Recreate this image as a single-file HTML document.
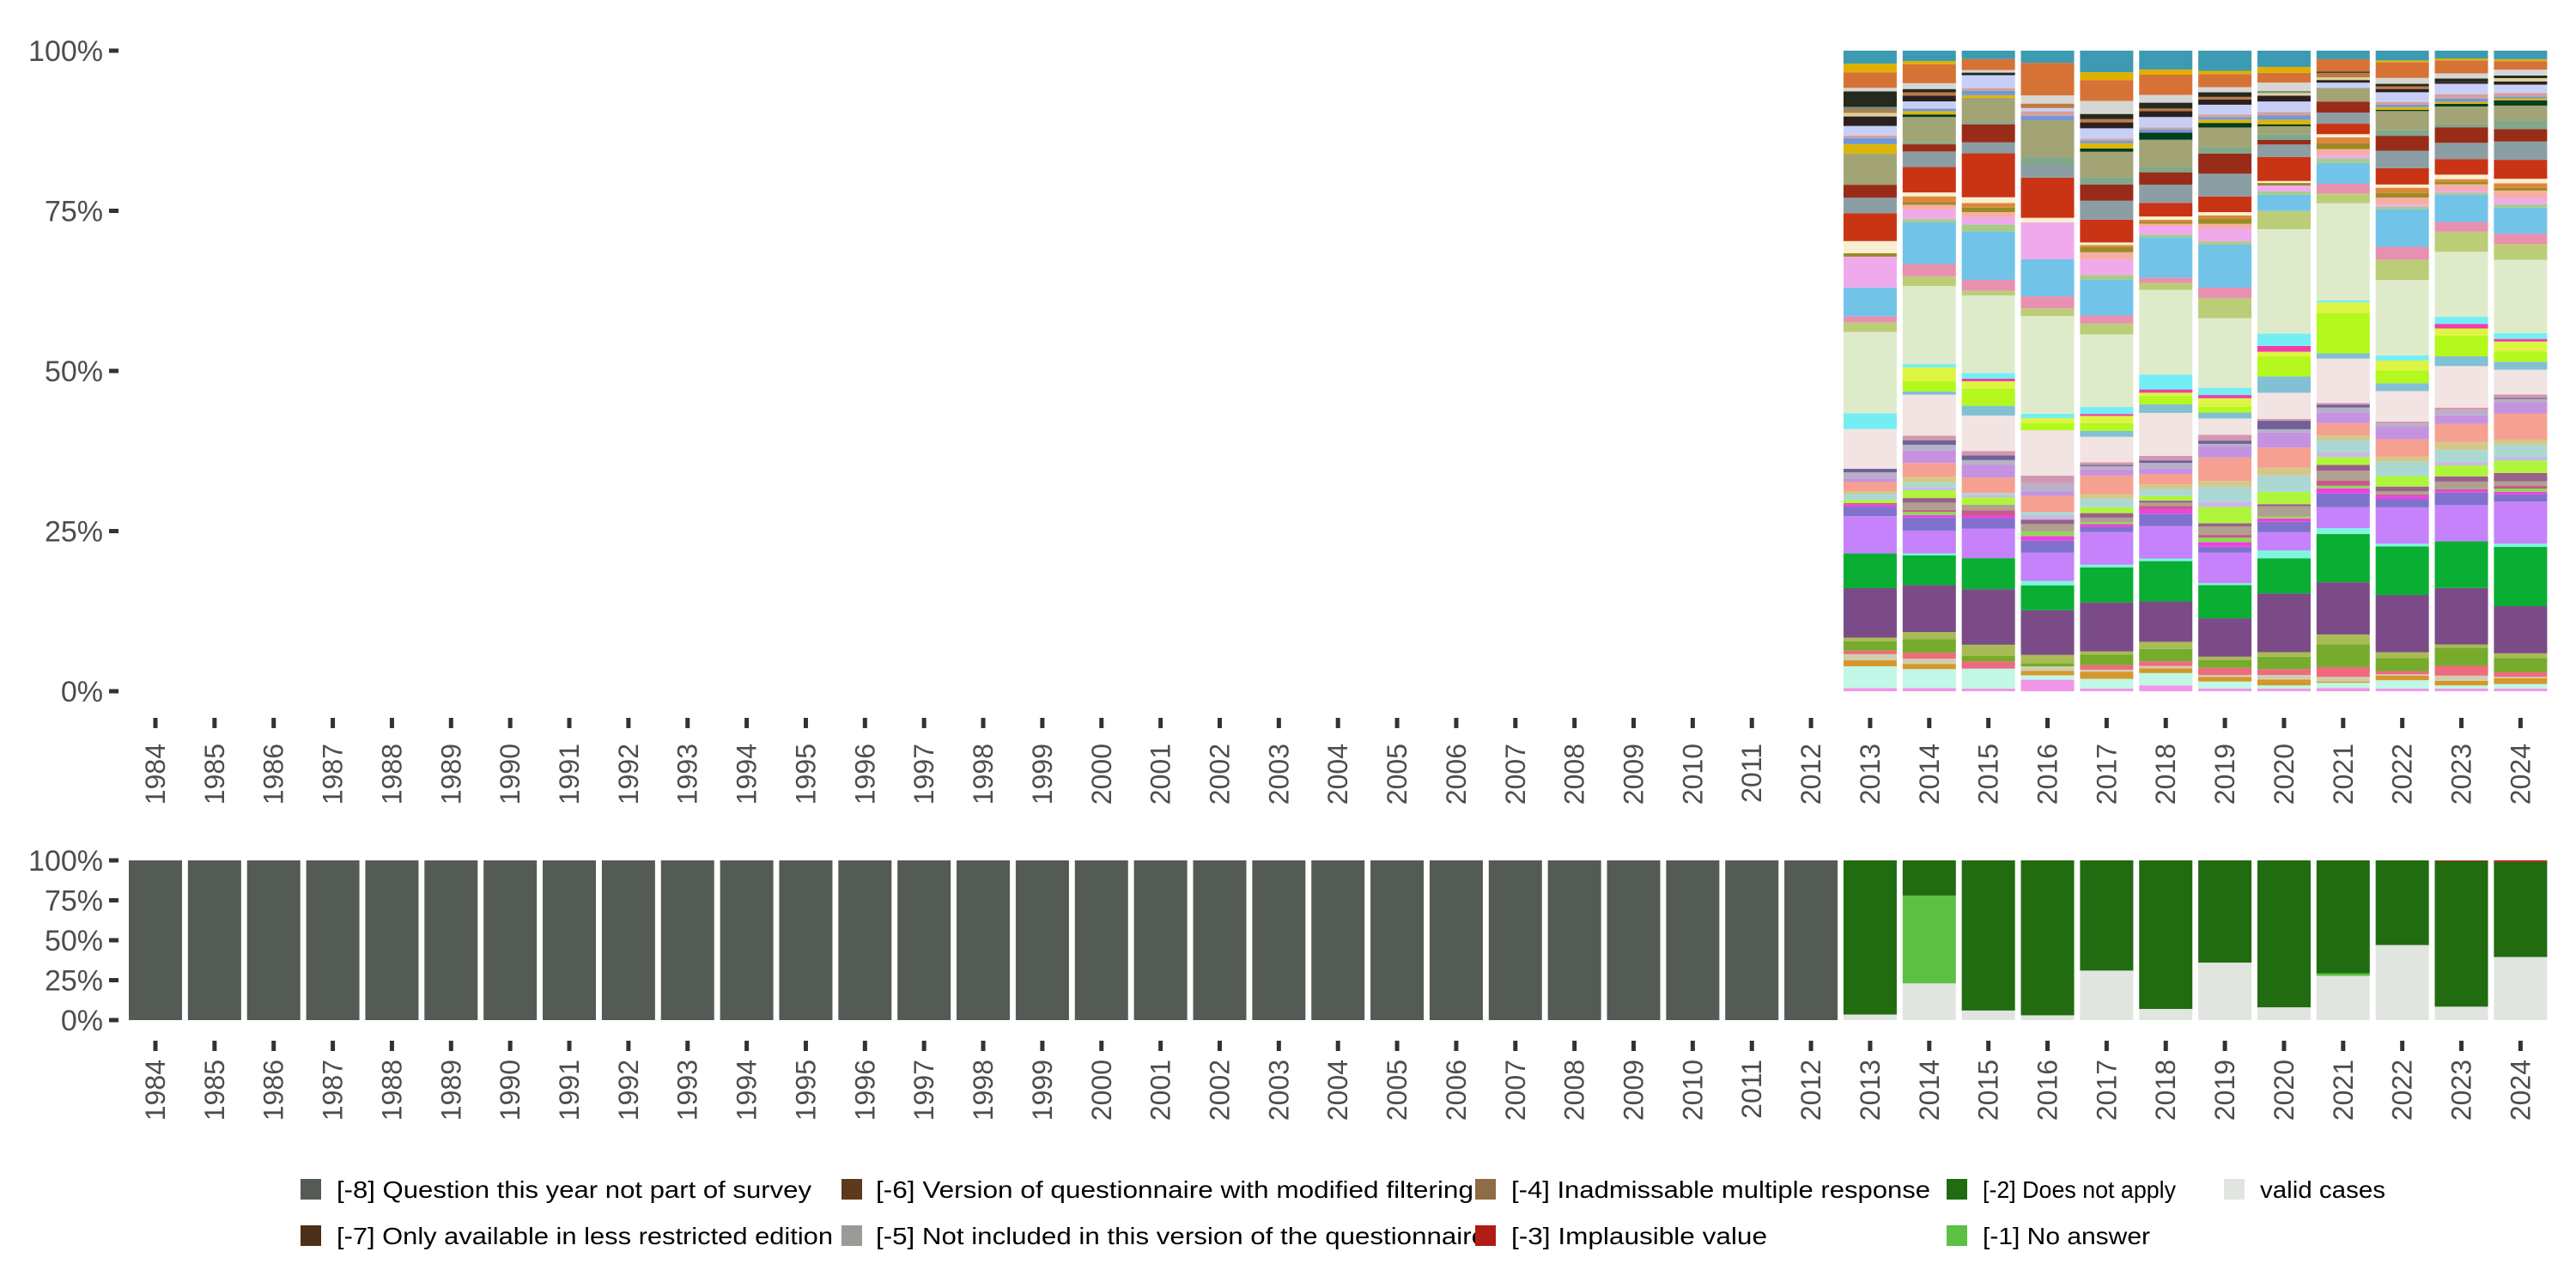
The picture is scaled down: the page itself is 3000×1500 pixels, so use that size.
<!DOCTYPE html>
<html><head><meta charset="utf-8"><style>
html,body{margin:0;padding:0;background:#fff;}
svg{display:block;font-family:"Liberation Sans",sans-serif;}
</style></head><body>
<svg id="chart" width="3000" height="1500" viewBox="0 0 3000 1500" xmlns="http://www.w3.org/2000/svg">
<g id="top"></g>
<g id="bottom"></g>
<g id="legend"></g>
</svg>
<script>
const years = [];
for (let y = 1984; y <= 2024; y++) years.push(y);
const yTicks = [0, 25, 50, 75, 100];
const yTickLabels = ["0%", "25%", "50%", "75%", "100%"];

// Top panel: answer categories (bottom -> top)
const catColors = ["#f096e8","#c0f7e6","#d6972a","#cfcfae","#ee6a7e","#76ab2c","#a9bb55","#7b4b87","#0aae33","#7ff5e0",
"#c582fa","#8072cc","#f040e0","#8ed855","#c55a8a","#b0a090","#98608a","#aef53c","#cab8e6","#acd8d4",
"#d5c887","#f5a090","#c592e0","#b8b0c8","#6e6296","#d496b0","#f2e4e2","#82c0d4","#b4f81e","#ddf542",
"#ee3fa8","#74eef5","#deebcb","#bccd78","#e890b0","#72c3e8","#a8cc88","#f0aaec","#f7aea2","#9c8a25",
"#dc873a","#faeed0","#c83414","#8a9ea4","#982c18","#80a88a","#a2a476","#023d1b","#ddb60a","#7397d6",
"#d6a09a","#c8cff7","#2a2020","#dcd2a0","#c07a40","#7b8c7a","#262a1e","#d6d6d4","#d67236","#e0b000","#3d9ab3"];
const topYears = [2013,2014,2015,2016,2017,2018,2019,2020,2021,2022,2023,2024];
const v2013 = [0.5,3.35,0.94,0.94,0.54,1.47,0.54,7.64,5.36,0, 5.76,1.47,0.3,0,0.25,0,0,0.5,0,0.94, 0.4,1.47,0.5,0.94,0.54,0,6.16,0,0,0, 0,2.4,12.6,1.47,0.94,4.4,0,4.8,0,0.54, 0,1.87,4.3,2.4,2,0,4.8,0,1.47,0.94, 0.4,1.47,1.47,0.54,0.4,0.54,2.4,0.54,2.4,1.34, 2];
const v2014 = [0.5,2.9,0.8,0.8,0.9,2.1,1.1,7.2,4.6,0.3, 3.5,2.0,0.4,0.5,0.3,1.1,0.7,1.2,0.4,0.8, 0.9,2.1,1.9,0.9,0.7,0.7,6.3,0.5,1.6,2.1, 0,0.5,12,1.5,1.9,6.4,0.5,1.5,0.7,0.4, 0.9,0.6,3.9,2.4,1.1,0.3,3.9,0.4,0.5,0.4, 0,1.1,0.9,0,0.5,0,0.5,0.9,2.9,0.5, 1.6];
const v2015 = [0.4,3.1,0,0,1.1,0.9,1.7,8.6,4.8,0, 4.6,1.6,0.4,0,0.8,0.9,0,1.1,0.4,0.3, 0,2.4,2.0,0.7,0.7,0.7,5.5,1.5,2.7,1.1, 0.4,0.9,12,0.7,1.7,7.5,1.1,1.1,0.8,0.7, 0.7,0.9,6.8,1.7,2.8,0.3,3.8,0,0.4,0.7, 0.4,2.0,0,0,0,0,0.4,0.4,1.7,0, 1.3];
const v2016 = [1.8,0.7,0.7,0.7,0,0.5,1.3,7.0,3.9,0.7, 4.4,1.9,0.7,0.7,0,1.2,0.7,0,0.7,0.5, 0,2.5,0.7,1.3,0,1.2,7.1,0,1.2,0.7, 0,0.7,15.3,1.2,1.9,5.8,0,5.8,0,0, 0,0.7,6.3,2.0,0,1.2,5.8,0,0,0.7, 0.7,0.5,0,0,0.7,0,0,1.3,5.1,0, 1.9];
const v2017 = [0.4,1.5,1.1,0.3,0.7,1.6,0.5,7.5,5.4,0.4, 5.0,0.8,0.4,0.3,0,0.7,0.7,0.9,0,1.3, 0.7,2.9,0.9,0.5,0.2,0.4,3.9,0.9,1.2,1.1, 0.3,1.1,11.1,1.7,1.2,5.5,0.7,2.4,1.1,0.8, 0.3,0.4,3.5,2.9,2.5,1.1,3.9,0.5,0.8,0.4, 0.3,1.6,0.9,0,0.5,0,0.8,2.0,3.2,1.2, 3.3];
const v2018 = [0.9,1.9,0.7,0.4,0.7,1.9,1.1,6.2,6.2,0.4, 5.0,1.9,0.7,0,0.5,0.5,0.3,0.7,0,1.1, 0.7,1.6,0.9,0.8,0.4,0.7,6.6,1.3,1.3,0.5, 0.5,2.3,13,1.1,0.8,6.2,0.4,1.3,0.4,0.3, 0.3,0.5,2.1,2.8,1.9,0.8,4.2,1.1,0,0.5, 0.3,1.6,0.9,0,0.4,0,0.9,1.2,3.1,0.8, 2.9];
const v2019 = [0.4,1.1,0.7,0.3,1.1,1.2,0.5,5.9,5.1,0.3, 4.7,0.9,0.7,0.7,0.4,1.3,0.5,2.5,0.8,2.3, 0.9,3.6,1.7,0.4,0.5,0.9,2.5,0.9,0.9,1.3, 0.5,1.1,10.7,3.1,1.6,6.6,0.5,2.0,0.7,0.8, 0.5,0.5,2.4,3.5,3.1,0.9,3.1,0.7,0.5,0.4, 0.4,1.5,0.8,0,0.4,0,0.7,0.8,2.0,0.5, 3.1];
const v2020 = [0.4,0.5,0.9,0.7,0.9,1.9,0.7,9.0,5.4,1.2, 2.8,1.6,0.5,0.3,0,1.6,0.3,1.9,0,2.5, 1.2,3.1,2.3,0.5,1.3,0.3,4.0,2.5,3.1,0.7, 0.9,1.9,16,2.8,0,2.5,0.5,0.9,0,0.4, 0,0.3,3.7,1.9,0.7,0.9,1.2,0.3,0.7,0.7, 0.5,1.6,0.9,0.4,0,0.3,0,1.3,1.5,0.9, 2.5];
const v2021 = [0.5,0.8,0.2,0.7,1.5,3.5,1.5,8.0,7.4,0.9, 3.2,2.1,0.8,0.4,0.8,1.5,0.9,1.2,0.7,1.9, 0.7,1.9,1.6,0.8,0.4,0.3,6.8,0.8,6.2,1.6, 0,0.3,14.9,1.5,1.5,3.2,0.7,0.5,0.9,0.9, 0.9,0.5,1.6,1.7,1.7,0,2.1,0,0,0, 0,0.8,0.4,0.4,0.7,0,0.2,0,1.9,0, 1.3];
const v2022 = [0.4,1.3,0.7,0.2,0.5,2.0,0.9,8.8,7.5,0.4, 5.6,1.3,0.5,0,0.2,0.5,0.7,1.6,0,2.2, 0.8,2.7,1.9,0.5,0,0.3,4.7,1.2,2.0,1.5, 0,0.8,11.6,3.1,2.0,5.8,0.4,0.3,1.1,0.7, 0.8,0.5,2.5,2.7,2.3,0.9,2.9,0.2,0.4,0.4, 0.4,1.5,0.5,0,0.4,0,0.4,0.9,2.4,0.3, 1.5];
const v2023 = [0.4,0.5,0.7,0.8,1.5,2.8,0.5,8.7,7.2,0, 5.6,1.9,0.3,0,0.2,1.2,0.8,1.7,0.5,1.9, 1.2,2.8,1.3,0.8,0,0.4,6.4,1.5,3.2,1.1, 0.7,1.1,10,3.1,1.5,4.2,0.3,0.4,0.9,0.4, 0.4,0.7,2.4,2.5,2.4,0.5,2.7,0.4,0.3,0.5, 0.7,1.6,0.3,0,0,0,0.5,0.8,2.0,0.3, 1.2];
const v2024 = [0.4,0.7,0.9,0.2,0.7,2.2,0.7,7.2,9.1,0.5, 6.4,1.1,0.4,0.5,0.4,0.7,1.3,1.9,0.5,1.9, 0.8,4.0,1.7,0.5,0.2,0.5,3.8,1.2,1.6,1.5, 0.4,0.9,11.2,2.4,1.6,4.0,0.5,0.9,1.2,0.4, 0.7,0.7,2.9,2.8,1.9,1.3,2.3,0.8,0.3,0.3, 0.5,1.3,0.5,0.5,0,0,0.4,0.9,1.3,0.3, 1.3];
const topValues = [v2013,v2014,v2015,v2016,v2017,v2018,v2019,v2020,v2021,v2022,v2023,v2024];

// Bottom panel: missing codes (percent), 2013-2024
const validCases   = [3.5,23,6,3,31,7,36,8,27.7,47,8.4,39.5];
const noAnswer     = [0,55,0,0,0,0,0,0,1.6,0,0,0];
const implausible  = [0,0,0,0,0,0,0,0,0,0,0.5,1];
const notSurveyed  = 100; // 1984-2012

const legendLabels = ["[-8] Question this year not part of survey","[-7] Only available in less restricted edition","[-6] Version of questionnaire with modified filtering","[-5] Not included in this version of the questionnaire","[-4] Inadmissable multiple response","[-3] Implausible value","[-2] Does not apply","[-1] No answer","valid cases"];
const legendColors = ["#545b55","#4d2f17","#5c3a1a","#999c96","#8f6b46","#b01c14","#216b10","#5bc043","#e1e5e0"];

const NS = "http://www.w3.org/2000/svg";
function mk(tag, attrs, parent) {
  const e = document.createElementNS(NS, tag);
  for (const k in attrs) e.setAttribute(k, attrs[k]);
  parent.appendChild(e);
  return e;
}
const x0 = 181, step = 68.86, barW = 62;
function xScale(year) { return x0 + (year - 1984) * step; }
function makeY(y0, y100) { return v => y0 + (y100 - y0) * v / 100; }
const yTop = makeY(805, 59);
const yBot = makeY(1188, 1002);

function axes(g, yS, tickY, labelY, prefix) {
  yTicks.forEach((t, i) => {
    const tl = mk("text", {x: 120, y: yS(t) + 12, "text-anchor": "end", "font-size": 34, fill: "#4d4d4d"}, g);
    tl.textContent = yTickLabels[i];
    
    
    const tm = mk("line", {x1: 127, x2: 138, y1: yS(t), y2: yS(t), stroke: "#333", "stroke-width": 5}, g);
    
    
  });
  years.forEach(yr => {
    const cx = xScale(yr);
    const tm = mk("line", {x1: cx, x2: cx, y1: tickY, y2: tickY + 12, stroke: "#333", "stroke-width": 5}, g);
    
    
    const tl = mk("text", {x: 0, y: 0, transform: `translate(${cx + 11},${labelY}) rotate(-90)`, "text-anchor": "end", "font-size": 32, fill: "#4d4d4d"}, g);
    tl.textContent = yr;
    
    
  });
}

// Top panel
const gt = document.getElementById("top");
topYears.forEach((yr, j) => {
  const vals = topValues[j];
  const total = vals.reduce((a, b) => a + b, 0);
  let cum = 0;
  vals.forEach((v, k) => {
    if (v <= 0) return;
    const p0 = cum / total * 100, p1 = (cum + v) / total * 100;
    cum += v;
    const r = mk("rect", {x: xScale(yr) - barW / 2, y: yTop(p1), width: barW, height: yTop(p0) - yTop(p1), fill: catColors[k]}, gt);
    
    
  });
});
axes(gt, yTop, 836, 866, 'top');

// Bottom panel
const gb = document.getElementById("bottom");
years.forEach(yr => {
  const j = yr - 2013;
  let segs;
  if (j < 0) segs = [[notSurveyed, legendColors[0]]];
  else {
    const dna = 100 - validCases[j] - noAnswer[j] - implausible[j];
    segs = [[validCases[j], legendColors[8]], [noAnswer[j], legendColors[7]], [dna, legendColors[6]], [implausible[j], legendColors[5]]];
  }
  let cum = 0;
  segs.forEach(s => {
    if (s[0] <= 0) return;
    const r = mk("rect", {x: xScale(yr) - barW / 2, y: yBot(cum + s[0]), width: barW, height: yBot(cum) - yBot(cum + s[0]), fill: s[1]}, gb);
    
    
    cum += s[0];
  });
});
axes(gb, yBot, 1212, 1234, 'bottom');

// Legend
const gl = document.getElementById("legend");
const legPos = [[350,1385,392,553],[350,1439,392,578],[980,1385,1020,696],[980,1439,1020,711],[1718,1385,1760,488],[1718,1439,1760,298],[2267,1385,2309,225],[2267,1439,2309,195],[2590,1385,2632,146]];
legendLabels.forEach((lab, i) => {
  const p = legPos[i];
  const k = mk("rect", {x: p[0], y: p[1] - 12, width: 24, height: 24, fill: legendColors[i]}, gl);
  
  
  const t = mk("text", {x: p[2], y: p[1] + 10, "font-size": 28, fill: "#000", textLength: p[3], lengthAdjust: "spacingAndGlyphs"}, gl);
  t.textContent = lab;
  
  
});
</script>
</body></html>
